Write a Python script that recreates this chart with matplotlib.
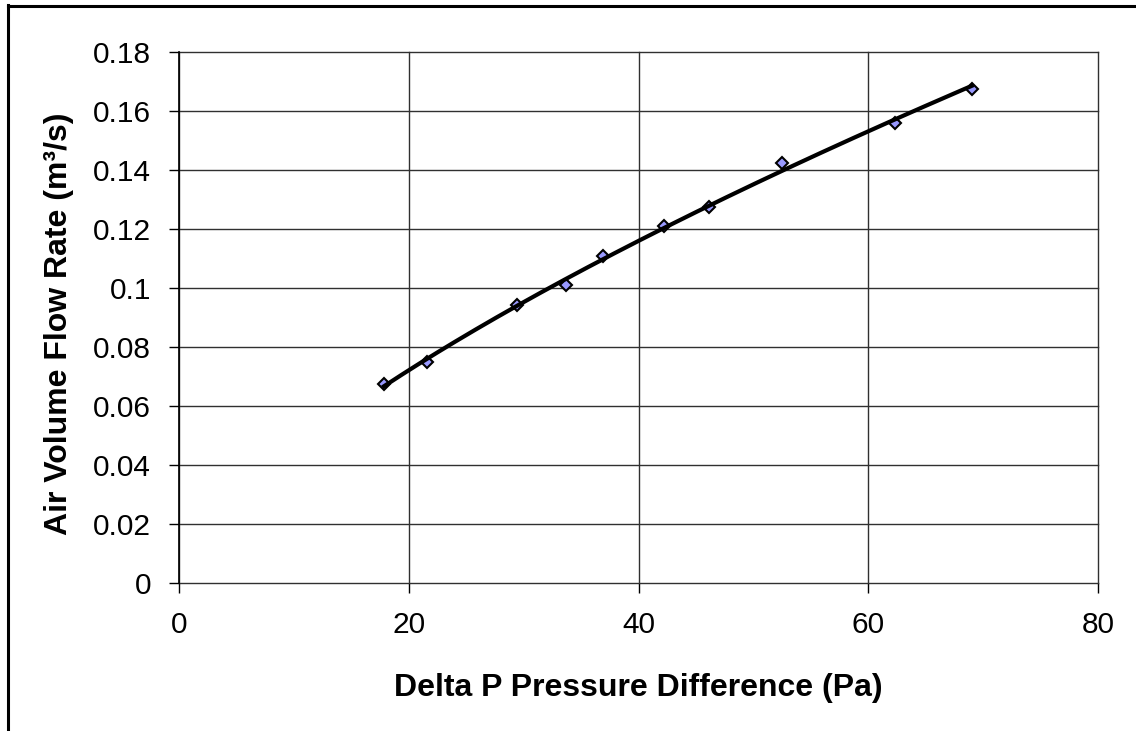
import numpy as np
import matplotlib
matplotlib.use("Agg")
import matplotlib.pyplot as plt
from matplotlib.lines import Line2D

# Data
delta_p = [17.85, 21.6, 29.4, 33.7, 36.9, 42.2, 46.1, 52.5, 62.3, 69.0]
flow_rate = [0.0675, 0.0749, 0.0942, 0.101, 0.111, 0.121, 0.1275, 0.1424, 0.156, 0.1675]
x_ticks = [0, 20, 40, 60, 80]
y_ticks = [0, 0.02, 0.04, 0.06, 0.08, 0.1, 0.12, 0.14, 0.16, 0.18]
y_tick_labels = ["0", "0.02", "0.04", "0.06", "0.08", "0.1", "0.12", "0.14", "0.16", "0.18"]

plt.rcParams['font.family'] = ['Liberation Sans', 'DejaVu Sans']

W, H = 1136, 731
fig = plt.figure(figsize=(W / 100, H / 100), dpi=100)
ax = fig.add_axes([179 / W, 1 - 583 / H, (1098 - 179) / W, (583 - 52) / H])

# Power trendline fitted from the data (as Excel's power trend)
xd = np.array(delta_p)
yd = np.array(flow_rate)
b, lna = np.polyfit(np.log(xd), np.log(yd), 1)
xt = np.linspace(xd.min(), xd.max(), 200)
yt = np.exp(lna) * xt ** b

ax.plot(xd, yd, linestyle='none', marker='D', markersize=6.5,
        markerfacecolor='#9999FF', markeredgecolor='black', markeredgewidth=1.5, zorder=3)
ax.plot(xt, yt, color='black', linewidth=3, zorder=4)

ax.set_xlim(0, 80)
ax.set_ylim(0, 0.18)
ax.set_xticks(x_ticks)
ax.set_yticks(y_ticks)
ax.set_yticklabels(y_tick_labels)

for s in ['top', 'right', 'bottom']:
    ax.spines[s].set_visible(False)
ax.spines['left'].set_color('black')
ax.spines['left'].set_linewidth(1.2)
ax.spines['left'].set_zorder(5)

ax.grid(True, color='#303030', linewidth=1.0)
ax.set_axisbelow(True)
for gl in ax.get_xgridlines() + ax.get_ygridlines():
    gl.set_clip_on(False)

ax.tick_params(axis='both', direction='out', length=7.2, width=1.0, color='black',
               labelsize=21.5)
ax.tick_params(axis='y', pad=13)
ax.tick_params(axis='x', pad=13)

ax.set_xlabel("Delta P Pressure Difference (Pa)", fontsize=23, fontweight='bold')
ax.xaxis.set_label_coords(0.5, -0.1695)
ax.set_ylabel("Air Volume Flow Rate (m³/s)", fontsize=23, fontweight='bold')
ax.yaxis.set_label_coords(-0.1143, 0.489)

# Outer chart frame (left and top edges visible)
fig.add_artist(Line2D([7.5 / W, 7.5 / W], [0, 1 - 5 / H], transform=fig.transFigure,
                      color='black', linewidth=2.2))
fig.add_artist(Line2D([7.5 / W, 1], [1 - 5.5 / H, 1 - 5.5 / H], transform=fig.transFigure,
                      color='black', linewidth=2.2))

fig.savefig("out.png", dpi=100)
